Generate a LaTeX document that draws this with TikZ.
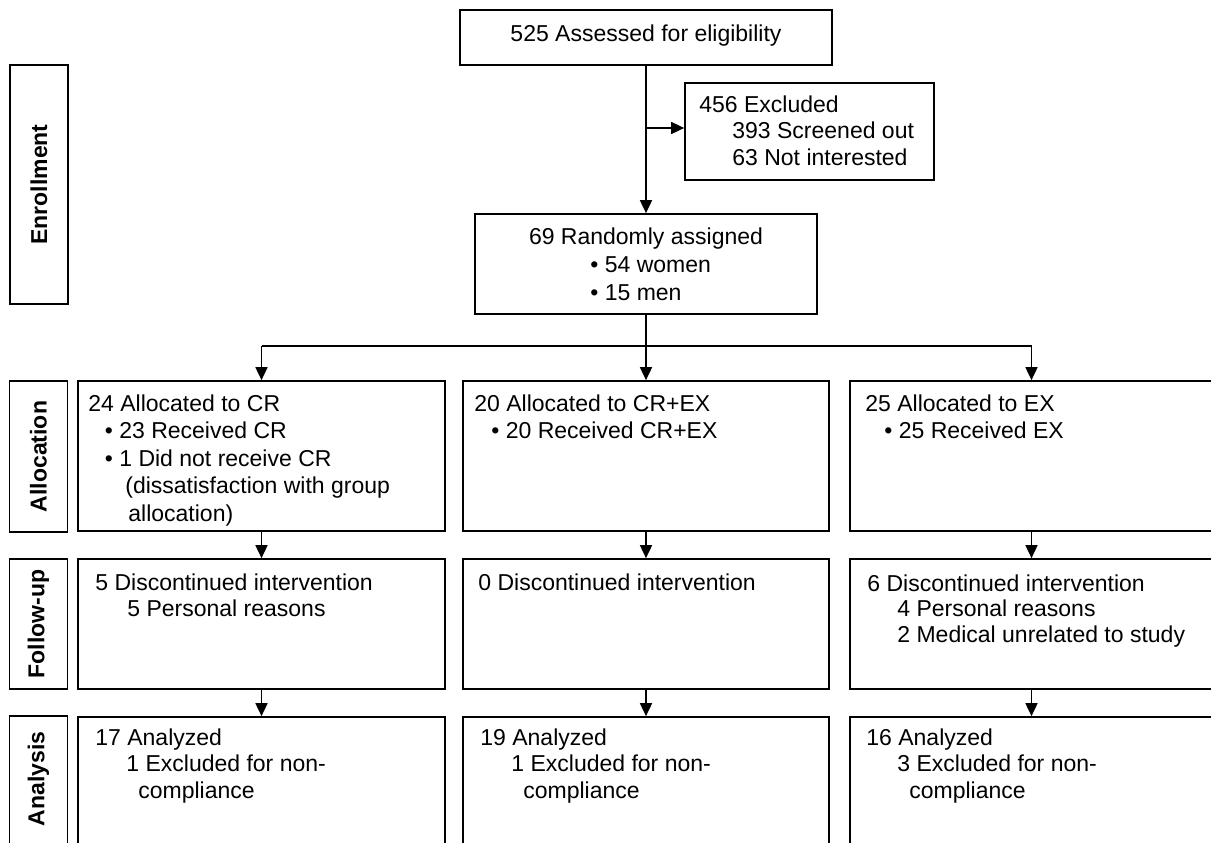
\documentclass[tikz,border=0pt]{standalone}
\usepackage{fontspec}
\setmainfont{Liberation Sans}
\usetikzlibrary{arrows.meta,fit}
\newcommand\fsz[1]{\fontsize{11.5}{#1}\selectfont}
\begin{document}
\begin{tikzpicture}[x=0.5pt,y=-0.5pt,
  box/.style={draw, line width=0.85pt, inner sep=0pt},
  txt/.style={anchor=base west, align=left, inner sep=0pt, font=\fsz{13.5pt}},
  side/.style={rotate=90, inner sep=0pt, font=\fsz{13.5pt}\bfseries},
  arr/.style={-{Triangle[length=6.5pt,width=6pt]}, line width=0.85pt},
  con/.style={line width=0.85pt}]
\useasboundingbox (0,0) rectangle (1211,842);
\clip (0,0) rectangle (1211,842);
% side label boxes
\node[box, fit={(10,65) (68,304)}] (enr) {};
\node[side] (enrL) at (enr.center) {Enrollment};
\node[box, fit={(9.5,381) (67.5,532)}] (alo) {};
\node[side] (aloL) at (alo.center) {Allocation};
\node[box, fit={(9.5,559) (67.5,689)}] (fol) {};
\node[side] (folL) at (fol.center) {Follow-up};
\node[box, fit={(9.5,716) (67.5,870)}] (ana) {};
\node[side] (anaL) at (38.5,779) {Analysis};
% enrollment
\node[box, fit={(460,10) (832,65)}] (top) {};
\node[anchor=base, inner sep=0pt, font=\fsz{13.5pt}] (topT) at (646,41) {525 Assessed for eligibility};
\node[box, fit={(685,83) (934,180)}] (excl) {};
\node[txt, font=\fsz{13.25pt}] (exclT) at (699,165) {456 Excluded\\\hspace*{16.5pt}393 Screened out\\\hspace*{16.5pt}63 Not interested};
\node[box, fit={(475,214) (817,314)}] (rand) {};
\node[anchor=base, inner sep=0pt, font=\fsz{13.5pt}] (randT) at (646,244) {69 Randomly assigned};
\node[txt, font=\fsz{14pt}] (randB) at (590,300) {• 54 women\\• 15 men};
% allocation
\node[box, fit={(78,381) (445,531)}] (crA) {};
\node[txt, font=\fsz{13.75pt}] (crAT) at (88,521) {24 Allocated to CR\\\hspace*{8.25pt}• 23 Received CR\\\hspace*{8.25pt}• 1 Did not receive CR\\\hspace*{18.5pt}(dissatisfaction with group\\\hspace*{20pt}allocation)};
\node[box, fit={(463,381) (829,531)}] (mdA) {};
\node[txt] (mdAT) at (474,438) {20 Allocated to CR+EX\\\hspace*{8.5pt}• 20 Received CR+EX};
\node[box, fit={(850,381) (1213,531)}] (exA) {};
\node[txt] (exAT) at (865,438) {25 Allocated to EX\\\hspace*{9.5pt}• 25 Received EX};
% follow-up
\node[box, fit={(78,559) (445,689)}] (crF) {};
\node[txt, font=\fsz{13pt}] (crFT) at (95,616) {5 Discontinued intervention\\\hspace*{16pt}5 Personal reasons};
\node[box, fit={(463,559) (829,689)}] (mdF) {};
\node[txt] (mdFT) at (478,590) {0 Discontinued intervention};
\node[box, fit={(850,559) (1213,689)}] (exF) {};
\node[txt, font=\fsz{12.75pt}] (exFT) at (867,642) {6 Discontinued intervention\\\hspace*{15pt}4 Personal reasons\\\hspace*{15pt}2 Medical unrelated to study};
% analysis
\node[box, fit={(78,717) (445,870)}] (crN) {};
\node[txt, font=\fsz{13.25pt}] (crNT) at (95,798) {17 Analyzed\\\hspace*{15.5pt}1 Excluded for non-\\\hspace*{21.5pt}compliance};
\node[box, fit={(463,717) (829,870)}] (mdN) {};
\node[txt, font=\fsz{13.25pt}] (mdNT) at (480,798) {19 Analyzed\\\hspace*{15.5pt}1 Excluded for non-\\\hspace*{21.5pt}compliance};
\node[box, fit={(850,717) (1213,870)}] (exN) {};
\node[txt, font=\fsz{13.25pt}] (exNT) at (866,798) {16 Analyzed\\\hspace*{15.5pt}3 Excluded for non-\\\hspace*{21.5pt}compliance};
% connectors
\draw[arr] (top.south) -- (rand.north);
\coordinate (j) at (646,128);
\draw[arr] (j) -- (j -| excl.west);
\coordinate (bm) at (646,346);
\draw[con] (rand.south) -- (bm);
\draw[con] (crA.north |- bm) -- (exA.north |- bm);
\draw[arr] (crA.north |- bm) -- (crA.north);
\draw[arr] (bm) -- (mdA.north);
\draw[arr] (exA.north |- bm) -- (exA.north);
\draw[arr] (crA.south) -- (crF.north);
\draw[arr] (mdA.south) -- (mdF.north);
\draw[arr] (exA.south) -- (exF.north);
\draw[arr] (crF.south) -- (crN.north);
\draw[arr] (mdF.south) -- (mdN.north);
\draw[arr] (exF.south) -- (exN.north);
\end{tikzpicture}
\end{document}
